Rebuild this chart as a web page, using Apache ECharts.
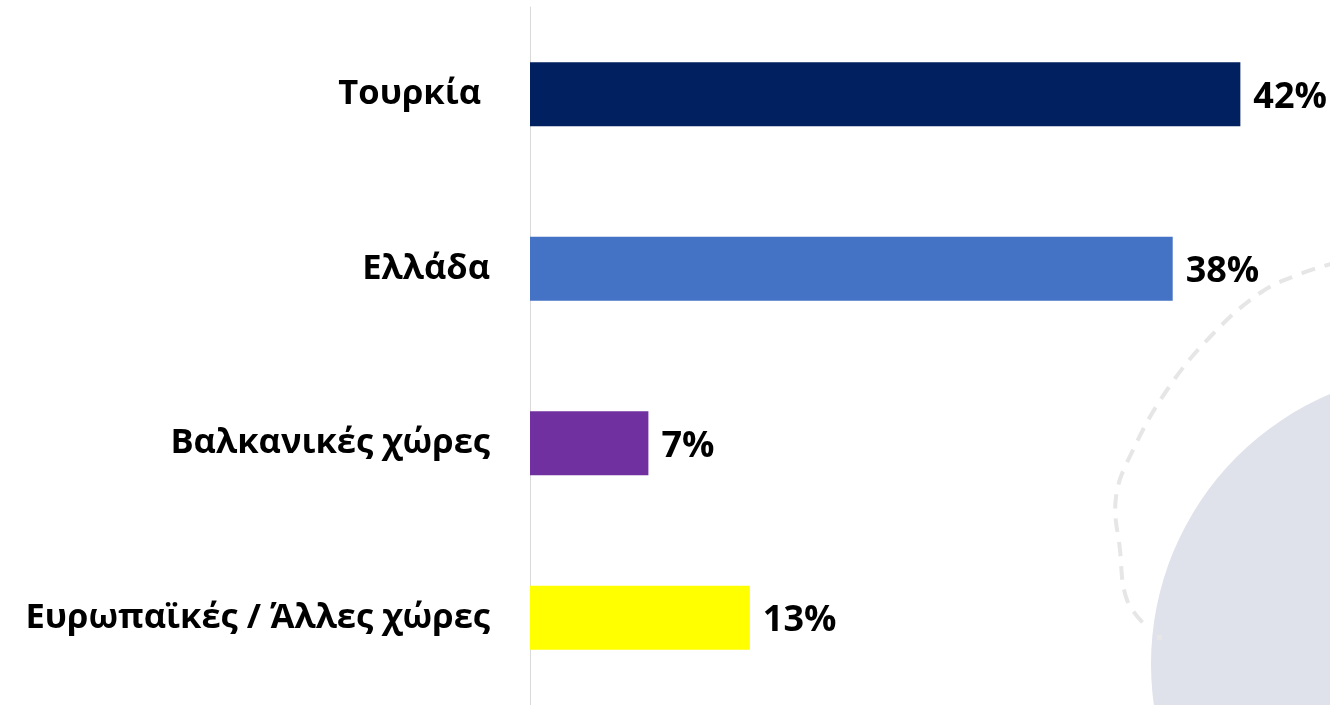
<!DOCTYPE html>
<html>
<head>
<meta charset="utf-8">
<script src="https://cdn.jsdelivr.net/npm/echarts@6/dist/echarts.min.js"></script>
<style>
  html, body { margin: 0; padding: 0; background: #ffffff; }
  #chart { width: 1330px; height: 705px; }
</style>
</head>
<body>
<div id="chart"></div>
<script>
// Country groups and their shares (%)
const categories = ['Τουρκία ', 'Ελλάδα', 'Βαλκανικές χώρες', 'Ευρωπαϊκές / Άλλες χώρες'];
const shares = [42, 38, 7, 13];
const barColors = ['#002060', '#4472C4', '#7030A0', '#FFFF00'];

const chart = echarts.init(document.getElementById('chart'), null, { renderer: 'canvas' });

const fontFamily = '"Open Sans", "Noto Sans", sans-serif';

chart.setOption({
  animation: false,
  backgroundColor: '#ffffff',
  grid: { left: 530, right: 0, top: 7, height: 703, containLabel: false },
  xAxis: {
    type: 'value',
    min: 0,
    max: 47.3,
    show: false
  },
  yAxis: {
    type: 'category',
    data: categories,
    inverse: true,
    axisLine: { show: true, lineStyle: { color: '#d9d9d9', width: 1 } },
    axisTick: { show: false },
    axisLabel: {
      margin: 40,
      color: '#000000',
      fontFamily: fontFamily,
      fontWeight: 'bold',
      fontSize: 34.5,
      padding: [6, 0, 0, 0]
    }
  },
  graphic: [
    {
      type: 'circle',
      z: -10,
      silent: true,
      shape: { cx: 1444, cy: 664, r: 293 },
      style: { fill: '#DFE1EB' }
    },
    {
      type: 'polyline',
      z: -9,
      silent: true,
      shape: {
        smooth: 0.4,
        points: [[1338, 262], [1300, 274], [1260, 293], [1210, 337], [1167, 390],
                 [1133, 450], [1116, 497], [1120, 550], [1127, 600], [1147, 627]]
      },
      style: { stroke: '#E6E6E6', lineWidth: 4, lineDash: [14, 10], fill: null }
    },
    {
      type: 'rect',
      z: -9,
      silent: true,
      shape: { x: 1157, y: 635, width: 5, height: 5 },
      style: { fill: '#E6E6E6' }
    }
  ],
  series: [
    {
      type: 'bar',
      data: shares.map((v, i) => ({ value: v, itemStyle: { color: barColors[i] } })),
      barWidth: 64,
      label: {
        show: true,
        position: 'right',
        distance: 13,
        offset: [0, 3],
        formatter: '{c}%',
        color: '#000000',
        fontFamily: fontFamily,
        fontWeight: 'bold',
        fontSize: 36
      }
    }
  ]
});
</script>
</body>
</html>
